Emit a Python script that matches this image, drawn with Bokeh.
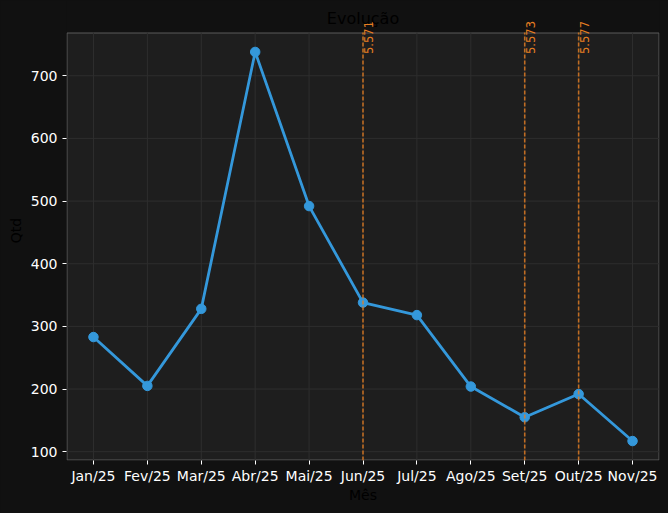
import math
from bokeh.plotting import figure
from bokeh.models import Range1d, FixedTicker
from bokeh.core.properties import value
from bokeh.embed import file_html
from bokeh.resources import INLINE

months = ["Jan/25", "Fev/25", "Mar/25", "Abr/25", "Mai/25", "Jun/25",
          "Jul/25", "Ago/25", "Set/25", "Out/25", "Nov/25"]
qtd = [283, 205, 328, 738, 492, 338, 318, 204, 155, 192, 117]
mark_idx = [5, 8, 9]
mark_labels = ["5.571", "5.573", "5.577"]
y_ticks = [100, 200, 300, 400, 500, 600, 700]
title_text = "Evolução"

FONT = "DejaVu Sans"
W, H = 668, 513
FL, FR, FB = 66, 659, 460      # frame left/right/bottom (px)
BOX_TOP = 32                   # top of the plotting box (px)

xs = list(range(len(months)))
lo, hi = min(qtd), max(qtd)
pad = 0.05 * (hi - lo)
y_lo, y_hi = lo - pad, hi + pad
upp = (y_hi - y_lo) / (FB - BOX_TOP)
y_top = y_hi + BOX_TOP * upp
x_lo, x_hi = -0.5, len(months) - 0.5
xpp = (x_hi - x_lo) / (FR - FL)

p = figure(width=W, height=H, output_backend="svg", toolbar_location=None,
           x_range=Range1d(x_lo, x_hi), y_range=Range1d(y_lo, y_top),
           min_border_left=FL, min_border_right=W - FR, min_border_bottom=H - FB,
           min_border_top=0)

p.background_fill_color = "#111111"
p.border_fill_color = "#111111"
p.outline_line_color = None
p.grid.visible = False

for ax in (p.xaxis[0], p.yaxis[0]):
    ax.major_label_text_font = FONT
    ax.major_label_text_font_size = "14px"
    ax.major_label_text_color = "#ffffff"
    ax.axis_label_text_font = FONT
    ax.axis_label_text_font_size = "14px"
    ax.axis_label_text_font_style = "normal"
    ax.axis_label_text_color = "#000000"
    ax.axis_line_color = None
    ax.major_tick_line_color = "#ffffff"
    ax.major_tick_out = 4
    ax.major_tick_in = 0
    ax.minor_tick_line_color = None

p.xaxis.axis_label = "Mês"
p.yaxis.axis_label = "Qtd"
p.xaxis.ticker = FixedTicker(ticks=xs)
p.xaxis.major_label_overrides = {i: m for i, m in enumerate(months)}
p.yaxis.ticker = FixedTicker(ticks=y_ticks)
p.xaxis.major_label_standoff = 3
p.yaxis.major_label_standoff = 5
p.xaxis.axis_label_standoff = 0
p.yaxis.axis_label_standoff = 4

# plotting box
p.quad(left=[x_lo + 0.5 * xpp], right=[x_hi - 0.5 * xpp],
       bottom=[y_lo + 0.5 * upp], top=[y_hi - 0.5 * upp],
       fill_color="#1e1e1e", line_color="#5a5a5a", line_width=1)

# grid
p.segment(x0=xs, x1=xs, y0=[y_lo] * len(xs), y1=[y_hi] * len(xs),
          line_color="#2e2e2e", line_width=1)
p.segment(x0=[x_lo] * len(y_ticks), x1=[x_hi] * len(y_ticks), y0=y_ticks, y1=y_ticks,
          line_color="#2e2e2e", line_width=1)

# series
p.line(xs, qtd, line_color="#3498db", line_width=2.8)
p.scatter(xs, qtd, size=9.5, fill_color="#3498db", line_color="#3498db")

# markers
p.segment(x0=mark_idx, x1=mark_idx, y0=[y_lo] * len(mark_idx), y1=[y_hi] * len(mark_idx),
          line_color="#e67e22", line_alpha=0.8, line_width=1.6, line_dash="4 2")
p.text(x=mark_idx, y=[hi] * len(mark_idx), text=mark_labels, angle=math.pi / 2,
       text_align="left", text_baseline="top", x_offset=1, y_offset=2,
       text_font=value(FONT), text_font_size="11.5px", text_color="#e67e22")

# title
p.text(x=[(x_lo + x_hi) / 2], y=[y_hi + 14 * upp], text=[title_text],
       text_align="center", text_baseline="middle",
       text_font=value(FONT), text_font_size="16px", text_color="#000000")

html = file_html(p, INLINE)
html = html.replace("<head>", "<head><style>html,body{background:#111111;}</style>", 1)
open("out.html", "w").write(html)
